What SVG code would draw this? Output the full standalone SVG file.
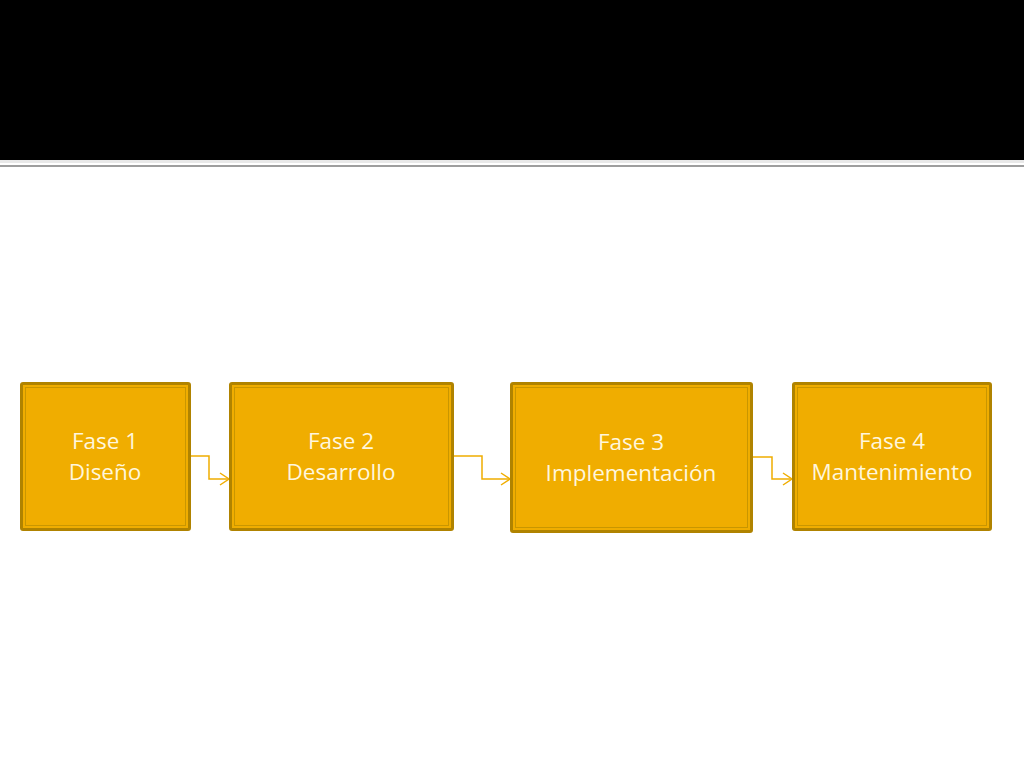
<svg xmlns="http://www.w3.org/2000/svg" width="1024" height="768" viewBox="0 0 1024 768">
<defs>
<style>
.box{fill:#F0AD00;stroke:#B08300;stroke-width:3}
.inner{fill:none;stroke:#C99600;stroke-width:1}
.lbl{font-family:"Open Sans","Liberation Sans",sans-serif;font-size:22.5px;fill:#FFF6DC;text-anchor:middle}
.conn{fill:none;stroke:#F0AD00;stroke-width:1.5}
</style>
<marker id="arr" markerWidth="12" markerHeight="14" refX="10" refY="7" orient="auto" markerUnits="userSpaceOnUse">
<path d="M1,1 L10,7 L1,13" fill="none" stroke="#F0AD00" stroke-width="1.5"/>
</marker>
</defs>
<rect x="0" y="0" width="1024" height="768" fill="#FFFFFF"/>
<rect x="0" y="0" width="1024" height="160" fill="#000000"/>
<rect x="0" y="160" width="1024" height="3" fill="#E8E8E8"/>
<rect x="0" y="165" width="1024" height="2" fill="#9E9E9E"/>
<g id="connectors">
<path class="conn" d="M190,456 H209 V479 H229" marker-end="url(#arr)"/>
<path class="conn" d="M454,456 H482 V479 H510" marker-end="url(#arr)"/>
<path class="conn" d="M753,457 H772 V479 H792" marker-end="url(#arr)"/>
</g>
<g id="node1">
<rect class="box" x="21.5" y="383.5" width="168" height="146" rx="1.5"/>
<rect class="inner" x="25.5" y="387.5" width="160" height="138"/>
<text class="lbl" x="105" y="449">Fase 1</text>
<text class="lbl" x="105" y="480">Diseño</text>
</g>
<g id="node2">
<rect class="box" x="230.5" y="383.5" width="222" height="146" rx="1.5"/>
<rect class="inner" x="234.5" y="387.5" width="214" height="138"/>
<text class="lbl" x="341" y="449">Fase 2</text>
<text class="lbl" x="341" y="480">Desarrollo</text>
</g>
<g id="node3">
<rect class="box" x="511.5" y="383.5" width="240" height="148" rx="1.5"/>
<rect class="inner" x="515.5" y="387.5" width="232" height="140"/>
<text class="lbl" x="631" y="450">Fase 3</text>
<text class="lbl" x="631" y="481">Implementación</text>
</g>
<g id="node4">
<rect class="box" x="793.5" y="383.5" width="197" height="146" rx="1.5"/>
<rect class="inner" x="797.5" y="387.5" width="189" height="138"/>
<text class="lbl" x="892" y="449">Fase 4</text>
<text class="lbl" x="892" y="480">Mantenimiento</text>
</g>
</svg>
